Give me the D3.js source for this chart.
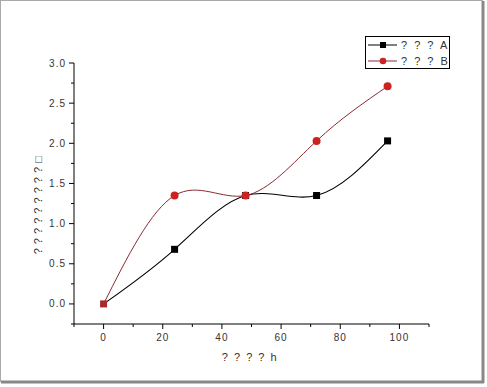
<!DOCTYPE html>
<html>
<head>
<meta charset="utf-8">
<style>
  body { margin: 0; background: #fff; }
  text { font-family: "Liberation Sans", Arial, sans-serif; fill: #333; }
</style>
</head>
<body>
<div id="chart-area"></div>
<script src="https://cdn.jsdelivr.net/npm/d3@7/dist/d3.min.js"></script>
<script>
    const width = 487;
    const height = 387;

    // data
    const hours = [0, 24, 48, 72, 96];
    const seriesA = [0, 0.68, 1.35, 1.35, 2.03];
    const seriesB = [0, 1.35, 1.35, 2.03, 2.71];
    const seriesNames = ["? ? ? A", "? ? ? B"];
    const xTicks = [0, 20, 40, 60, 80, 100];
    const yTicks = [0, 0.5, 1.0, 1.5, 2.0, 2.5, 3.0];
    const xTitle = "? ? ? ? h";
    const yTitle = "? ? ? ? ? ? ? ? ? \u25A1";

    const svg = d3.select("#chart-area")
        .append("svg")
            .attr("width", width)
            .attr("height", height);

    // picture frame (thin top/left, shadowed right/bottom)
    svg.append("rect").attr("x", 0.5).attr("y", 0.5).attr("width", 482).attr("height", 381)
        .attr("fill", "none").attr("stroke", "#aaa").attr("stroke-width", 1);
    svg.append("line").attr("x1", 483).attr("x2", 483).attr("y1", 1).attr("y2", 383)
        .attr("stroke", "#888").attr("stroke-width", 3);
    svg.append("line").attr("x1", 1).attr("x2", 484).attr("y1", 382).attr("y2", 382)
        .attr("stroke", "#888").attr("stroke-width", 3);

    const x = d3.scaleLinear().domain([-10, 110]).range([74, 429]);
    const y = d3.scaleLinear().domain([-0.25, 3.0]).range([324, 63]);

    // minor ticks
    const xMinor = d3.range(-10, 111, 10).filter(v => !xTicks.includes(v));
    const yMinor = d3.range(-0.25, 3.0, 0.5);

    const gx = svg.append("g").attr("transform", `translate(0,${y(-0.25)})`);
    gx.append("line").attr("x1", x(-10)).attr("x2", x(110)).attr("stroke", "#000");
    gx.selectAll(".maj").data(xTicks).enter().append("line")
        .attr("x1", d => x(d)).attr("x2", d => x(d)).attr("y1", 0).attr("y2", 5)
        .attr("stroke", "#000");
    gx.selectAll(".min").data(xMinor).enter().append("line")
        .attr("x1", d => x(d)).attr("x2", d => x(d)).attr("y1", 0).attr("y2", 3)
        .attr("stroke", "#000");
    gx.selectAll("text").data(xTicks).enter().append("text")
        .attr("x", d => x(d)).attr("y", 17)
        .attr("text-anchor", "middle")
        .style("font-size", "10px").style("letter-spacing", "1px")
        .text(d => d);

    const gy = svg.append("g").attr("transform", `translate(${x(-10)},0)`);
    gy.append("line").attr("y1", y(-0.25)).attr("y2", y(3.0)).attr("stroke", "#000");
    gy.selectAll(".maj").data(yTicks).enter().append("line")
        .attr("y1", d => y(d)).attr("y2", d => y(d)).attr("x1", 0).attr("x2", -5)
        .attr("stroke", "#000");
    gy.selectAll(".min").data(yMinor).enter().append("line")
        .attr("y1", d => y(d)).attr("y2", d => y(d)).attr("x1", 0).attr("x2", -3)
        .attr("stroke", "#000");
    gy.selectAll("text").data(yTicks).enter().append("text")
        .attr("x", -8).attr("y", d => y(d) + 3.5)
        .attr("text-anchor", "end")
        .style("font-size", "10px").style("letter-spacing", "1px")
        .text(d => d.toFixed(1));

    // axis titles
    svg.append("text").attr("x", 250).attr("y", 361)
        .attr("text-anchor", "middle").style("font-size", "11px")
        .style("letter-spacing", "1.5px")
        .text(xTitle);
    svg.append("text")
        .attr("transform", `translate(42,205) rotate(-90)`)
        .attr("text-anchor", "middle").style("font-size", "11px")
        .style("letter-spacing", "0.5px")
        .text(yTitle);

    const line = d3.line()
        .x(d => x(d[0]))
        .y(d => y(d[1]))
        .curve(d3.curveNatural);

    const ptsA = hours.map((h, i) => [h, seriesA[i]]);
    const ptsB = hours.map((h, i) => [h, seriesB[i]]);

    svg.append("path").attr("d", line(ptsA))
        .attr("fill", "none").attr("stroke", "#000").attr("stroke-width", 1.1);
    svg.append("path").attr("d", line(ptsB))
        .attr("fill", "none").attr("stroke", "#8a2a33").attr("stroke-width", 1);

    svg.selectAll(".ma").data(ptsA).enter().append("rect")
        .attr("x", d => x(d[0]) - 3.5).attr("y", d => y(d[1]) - 3.5)
        .attr("width", 7).attr("height", 7)
        .attr("fill", (d, i) => i === 0 ? "#a82a2a" : "#000");
    svg.selectAll(".mb").data(ptsB.slice(1)).enter().append("circle")
        .attr("cx", d => x(d[0])).attr("cy", d => y(d[1])).attr("r", 4)
        .attr("fill", "#cc2222");

    // legend
    const lg = svg.append("g");
    lg.append("rect").attr("x", 365.5).attr("y", 36.5).attr("width", 84).attr("height", 32)
        .attr("fill", "#fff").attr("stroke", "#000");
    lg.append("line").attr("x1", 368).attr("x2", 397).attr("y1", 45).attr("y2", 45).attr("stroke", "#000");
    lg.append("rect").attr("x", 380).attr("y", 42).attr("width", 6).attr("height", 6).attr("fill", "#000");
    lg.append("line").attr("x1", 368).attr("x2", 397).attr("y1", 61).attr("y2", 61).attr("stroke", "#8a2a33");
    lg.append("circle").attr("cx", 383).attr("cy", 61).attr("r", 3.3).attr("fill", "#cc2222");
    lg.selectAll("text").data(seriesNames).enter().append("text")
        .attr("x", 401).attr("y", (d, i) => 49 + i * 16)
        .style("font-size", "11px").style("letter-spacing", "2px")
        .text(d => d);
</script>
</body>
</html>
